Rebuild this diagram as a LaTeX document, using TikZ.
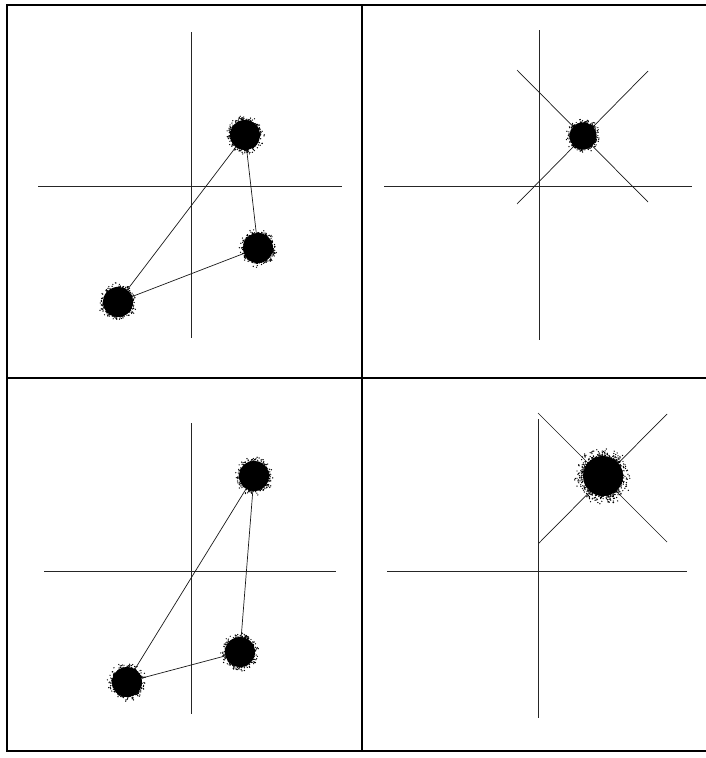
\documentclass[tikz,border=0pt]{standalone}
\begin{document}
\begin{tikzpicture}[x=1pt,y=-1pt,
  frame/.style={line width=1.6pt,black},
  axis/.style={line width=0.8pt,black!85},
  link/.style={line width=0.7pt,black!90},
  blob/.style={circle,fill=black,inner sep=0pt,outer sep=0pt}]
\useasboundingbox (0,0) rectangle (706,758);
\pgfmathsetseed{4711}
\newcommand\scatterblob[4]{%
  \begin{scope}[shift={(#1)}]
  \foreach \i in {1,...,#4}{%
    \pgfmathsetmacro\ang{360*rnd}%
    \pgfmathsetmacro\rr{#2+(#3-#2)*rnd*rnd}%
    \fill[black] (\ang:\rr) circle (0.7);
  }%
  \end{scope}}
% frame
\draw[frame] (7,5) rectangle (710,751);
\draw[frame] (362,5) -- (362,751);
\draw[frame] (7,378) -- (710,378);

% ---- top left
\coordinate (tlvt) at (191,32); \coordinate (tlvb) at (191,338);
\coordinate (tlhl) at (38,186); \coordinate (tlhr) at (342,186);
\draw[axis] (tlvt) -- (tlvb);
\draw[axis] (tlhl) -- (tlhr);
\node[blob,minimum size=30] (A1) at (245,135) {};
\node[blob,minimum size=30] (B1) at (258,248) {};
\node[blob,minimum size=30] (C1) at (118,302) {};
\scatterblob{A1}{13}{20}{300}
\scatterblob{B1}{13}{20}{300}
\scatterblob{C1}{13}{20}{300}
\draw[link] (A1) -- (C1);
\draw[link] (A1) -- (B1);
\draw[link] (B1) -- (C1);

% ---- top right
\coordinate (trvt) at (539,30); \coordinate (trvb) at (539,340);
\coordinate (trhl) at (384,186); \coordinate (trhr) at (692,186);
\coordinate (trx1a) at (517,70); \coordinate (trx1b) at (648,202);
\coordinate (trx2a) at (648,71); \coordinate (trx2b) at (517,204);
\draw[axis] (trvt) -- (trvb);
\draw[axis] (trhl) -- (trhr);
\draw[link] (trx1a) -- (trx1b);
\draw[link] (trx2a) -- (trx2b);
\node[blob,minimum size=27] (D1) at (583,136) {};
\scatterblob{D1}{12}{18}{250}

% ---- bottom left
\coordinate (blvt) at (191,423); \coordinate (blvb) at (191,714);
\coordinate (blhl) at (44,571); \coordinate (blhr) at (336,571);
\draw[axis] (blvt) -- (blvb);
\draw[axis] (blhl) -- (blhr);
\node[blob,minimum size=30] (A2) at (254,476) {};
\node[blob,minimum size=30] (B2) at (240,652) {};
\node[blob,minimum size=30] (C2) at (127,682) {};
\scatterblob{A2}{13}{20}{300}
\scatterblob{B2}{13}{20}{300}
\scatterblob{C2}{13}{20}{300}
\draw[link] (A2) -- (C2);
\draw[link] (A2) -- (B2);
\draw[link] (B2) -- (C2);

% ---- bottom right
\coordinate (brvt) at (538,419); \coordinate (brvb) at (538,718);
\coordinate (brhl) at (387,571); \coordinate (brhr) at (687,571);
\coordinate (brx1a) at (538,413); \coordinate (brx1b) at (667,542);
\coordinate (brx2a) at (667,414); \coordinate (brx2b) at (539,543);
\draw[axis] (brvt) -- (brvb);
\draw[axis] (brhl) -- (brhr);
\draw[link] (brx1a) -- (brx1b);
\draw[link] (brx2a) -- (brx2b);
\node[blob,minimum size=40] (D2) at (603,476) {};
\scatterblob{D2}{18}{30}{550}
\end{tikzpicture}
\end{document}
